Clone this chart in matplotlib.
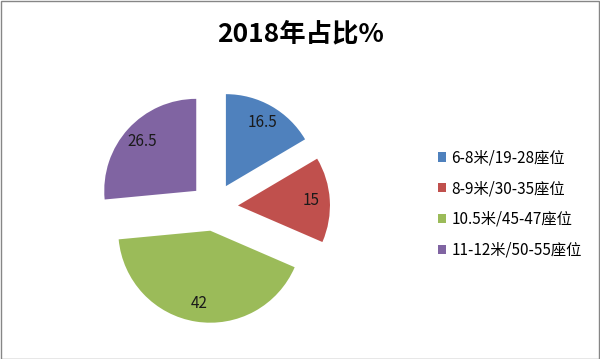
import matplotlib
matplotlib.use('Agg')
import matplotlib.pyplot as plt
from matplotlib.patches import Rectangle

plt.rcParams['font.family'] = ['Noto Sans CJK SC', 'DejaVu Sans']

title = '2018年占比%'
categories = ['6-8米/19-28座位', '8-9米/30-35座位', '10.5米/45-47座位', '11-12米/50-55座位']
values = [16.5, 15, 42, 26.5]
colors = ['#4F81BD', '#C0504D', '#9BBB59', '#8064A2']

W, H = 600, 359
fig = plt.figure(figsize=(W / 100, H / 100), dpi=100)
ax = fig.add_axes([0, 0, 1, 1])
ax.set_xlim(0, W)
ax.set_ylim(0, H)
ax.set_aspect('equal')
ax.axis('off')

# pie placed in pixel coordinates
cx, cy, r = 214, H - 207, 92
labels_txt = iter(values)
wedges, _, autotexts = ax.pie(values, colors=colors, startangle=90, counterclock=False,
                              center=(cx, cy), radius=r, explode=[24] * len(values),
                              autopct=lambda p: f'{next(labels_txt):g}', pctdistance=0.8,
                              textprops=dict(fontsize=11, color='#1a1a1a'),
                              wedgeprops=dict(linewidth=0))
ax.set_xlim(0, W)
ax.set_ylim(0, H)

fig.text(301 / W, 1 - 34 / H, title, ha='center', va='center', fontsize=19, fontweight='bold')

fig.legend(wedges, categories, loc='center left', bbox_to_anchor=(424 / W, 1 - 204 / H),
           frameon=False, fontsize=11, handlelength=0.55, handleheight=0.55,
           handletextpad=0.35, labelspacing=0.9)

# chart border
fig.patches.append(Rectangle((0.5 / W, 0.5 / H), 1 - 1.5 / W, 1 - 1.5 / H, transform=fig.transFigure,
                             fill=False, edgecolor='#868686', linewidth=1))

fig.savefig('out.png', dpi=100, facecolor='white')
